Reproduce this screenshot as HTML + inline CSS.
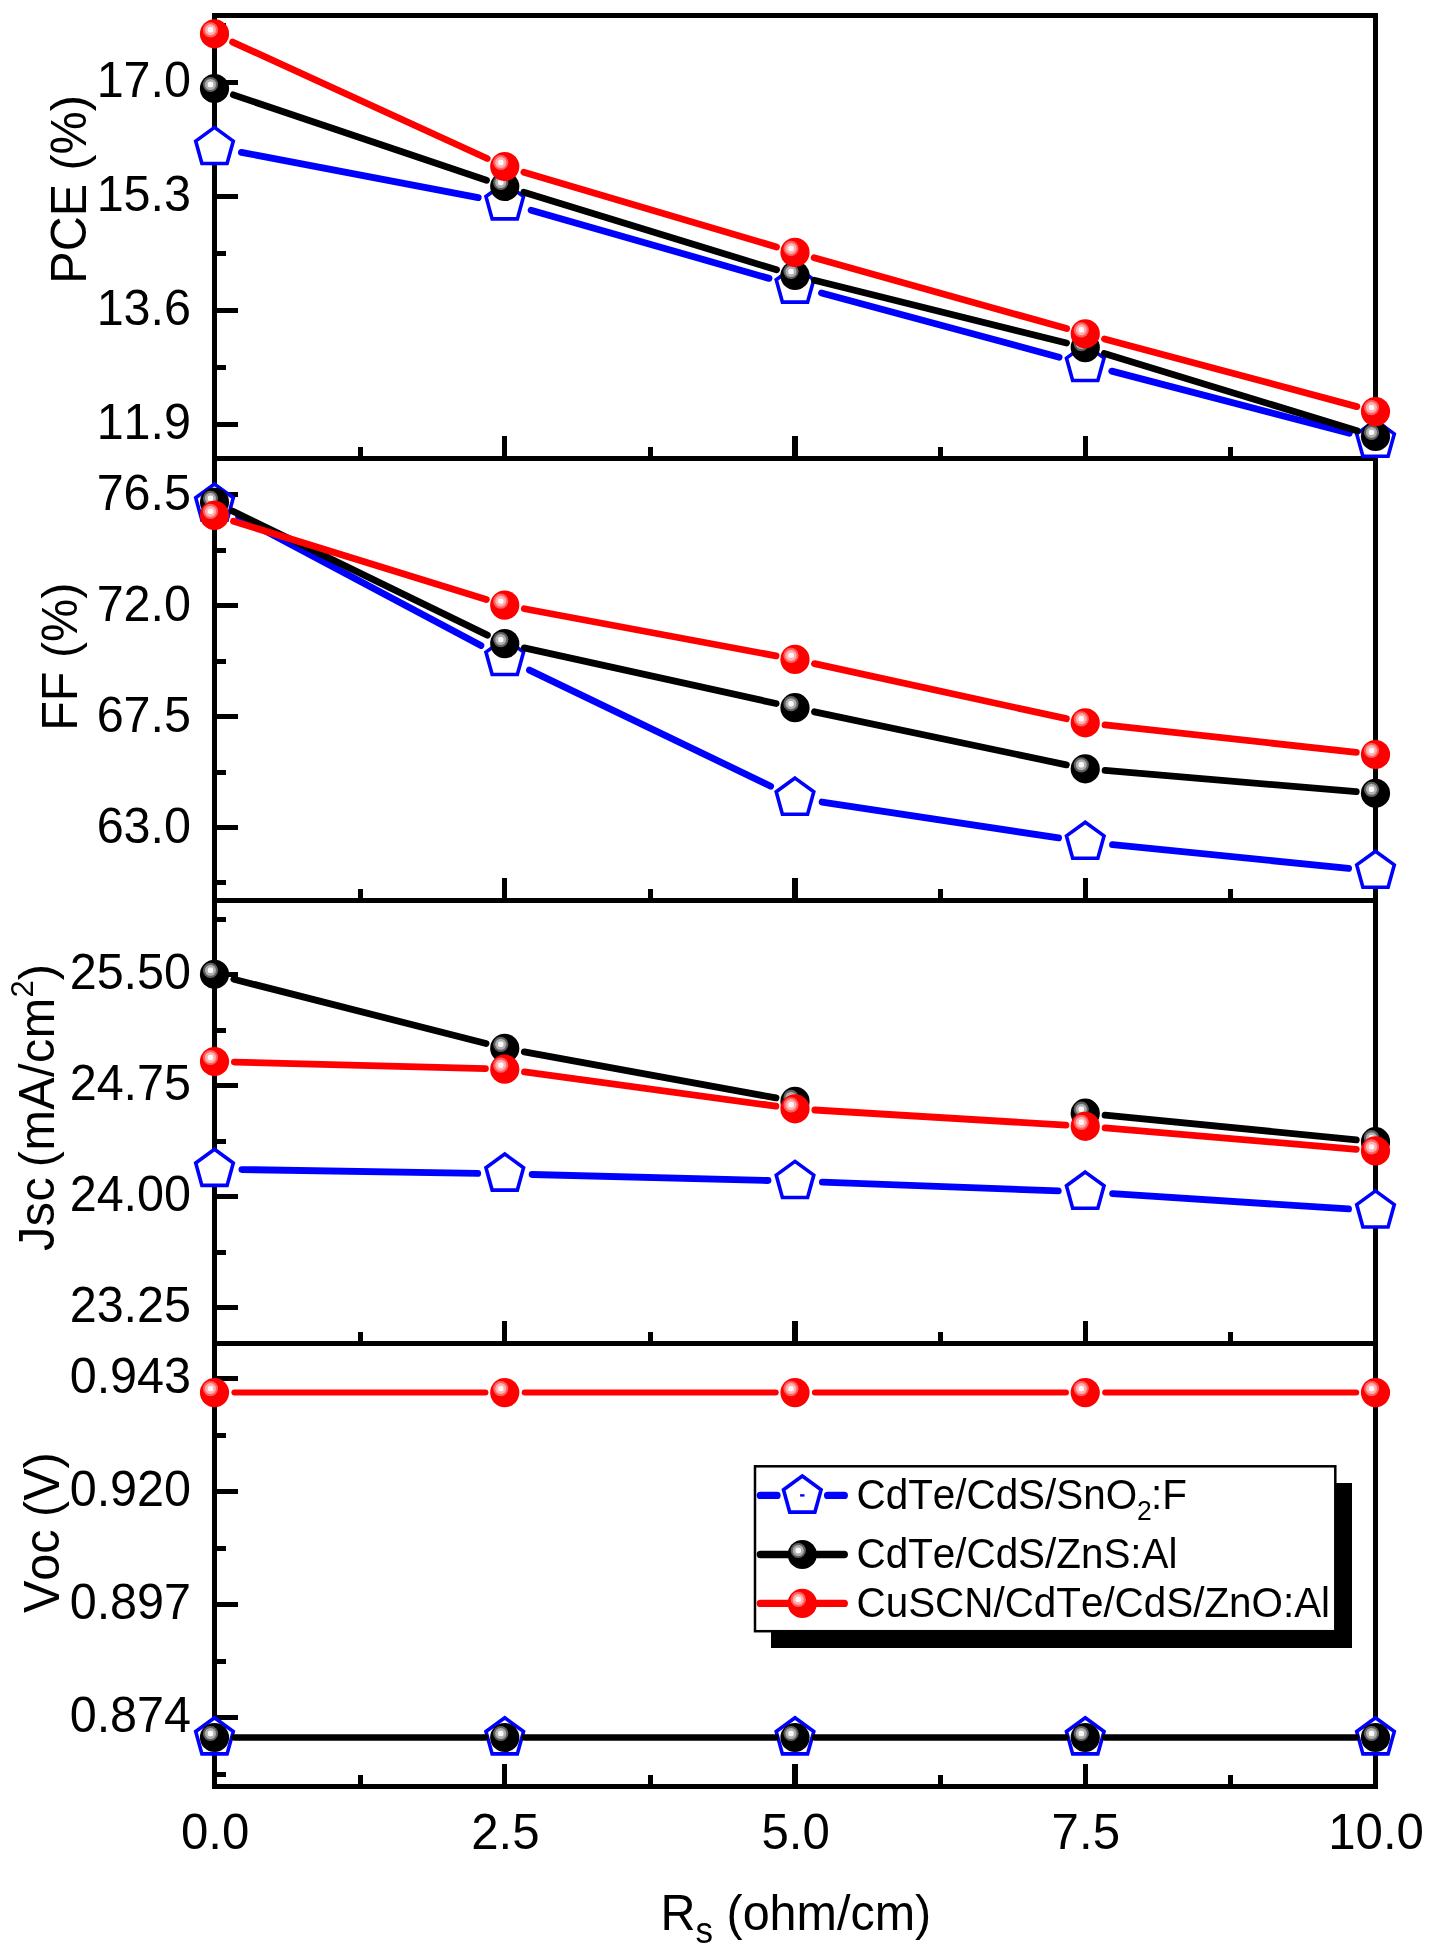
<!DOCTYPE html>
<html><head><meta charset="utf-8"><title>Rs dependence</title>
<style>html,body{margin:0;padding:0;background:#fff}svg{display:block;will-change:transform}text{font-kerning:none;font-variant-ligatures:none}</style>
</head><body>
<svg width="1433" height="1951" viewBox="0 0 1433 1951">
<rect width="100%" height="100%" fill="#fff"/>
<g stroke="#000" stroke-width="5" fill="none" shape-rendering="crispEdges">
<line x1="214.5" y1="13.0" x2="214.5" y2="1789.0"/>
<line x1="1375.5" y1="13.0" x2="1375.5" y2="1789.0"/>
<line x1="214.5" y1="15.5" x2="1375.5" y2="15.5"/>
<line x1="214.5" y1="458.5" x2="1375.5" y2="458.5"/>
<line x1="214.5" y1="900.5" x2="1375.5" y2="900.5"/>
<line x1="214.5" y1="1343.5" x2="1375.5" y2="1343.5"/>
<line x1="214.5" y1="1786.5" x2="1375.5" y2="1786.5"/>
<line x1="214.5" y1="82.5" x2="238.0" y2="82.5"/>
<line x1="214.5" y1="196.5" x2="238.0" y2="196.5"/>
<line x1="214.5" y1="310.5" x2="238.0" y2="310.5"/>
<line x1="214.5" y1="424.5" x2="238.0" y2="424.5"/>
<line x1="214.5" y1="25.5" x2="226.0" y2="25.5"/>
<line x1="214.5" y1="139.5" x2="226.0" y2="139.5"/>
<line x1="214.5" y1="253.5" x2="226.0" y2="253.5"/>
<line x1="214.5" y1="367.5" x2="226.0" y2="367.5"/>
<rect x="502" y="436.0" width="5" height="22.5" fill="#000" stroke="none"/>
<rect x="792" y="436.0" width="6" height="22.5" fill="#000" stroke="none"/>
<rect x="1083" y="436.0" width="5" height="22.5" fill="#000" stroke="none"/>
<rect x="358" y="447.0" width="5" height="11.5" fill="#000" stroke="none"/>
<rect x="648" y="447.0" width="5" height="11.5" fill="#000" stroke="none"/>
<rect x="938" y="447.0" width="5" height="11.5" fill="#000" stroke="none"/>
<rect x="1228" y="447.0" width="5" height="11.5" fill="#000" stroke="none"/>
<line x1="214.5" y1="494.5" x2="238.0" y2="494.5"/>
<line x1="214.5" y1="605.5" x2="238.0" y2="605.5"/>
<line x1="214.5" y1="716.5" x2="238.0" y2="716.5"/>
<line x1="214.5" y1="827.5" x2="238.0" y2="827.5"/>
<line x1="214.5" y1="550.5" x2="226.0" y2="550.5"/>
<line x1="214.5" y1="661.5" x2="226.0" y2="661.5"/>
<line x1="214.5" y1="772.5" x2="226.0" y2="772.5"/>
<line x1="214.5" y1="882.5" x2="226.0" y2="882.5"/>
<rect x="502" y="878.0" width="5" height="22.5" fill="#000" stroke="none"/>
<rect x="792" y="878.0" width="6" height="22.5" fill="#000" stroke="none"/>
<rect x="1083" y="878.0" width="5" height="22.5" fill="#000" stroke="none"/>
<rect x="358" y="889.0" width="5" height="11.5" fill="#000" stroke="none"/>
<rect x="648" y="889.0" width="5" height="11.5" fill="#000" stroke="none"/>
<rect x="938" y="889.0" width="5" height="11.5" fill="#000" stroke="none"/>
<rect x="1228" y="889.0" width="5" height="11.5" fill="#000" stroke="none"/>
<line x1="214.5" y1="974.5" x2="238.0" y2="974.5"/>
<line x1="214.5" y1="1085.5" x2="238.0" y2="1085.5"/>
<line x1="214.5" y1="1196.5" x2="238.0" y2="1196.5"/>
<line x1="214.5" y1="1307.5" x2="238.0" y2="1307.5"/>
<line x1="214.5" y1="919.5" x2="226.0" y2="919.5"/>
<line x1="214.5" y1="1030.5" x2="226.0" y2="1030.5"/>
<line x1="214.5" y1="1141.5" x2="226.0" y2="1141.5"/>
<line x1="214.5" y1="1252.5" x2="226.0" y2="1252.5"/>
<rect x="502" y="1321.0" width="5" height="22.5" fill="#000" stroke="none"/>
<rect x="792" y="1321.0" width="6" height="22.5" fill="#000" stroke="none"/>
<rect x="1083" y="1321.0" width="5" height="22.5" fill="#000" stroke="none"/>
<rect x="358" y="1332.0" width="5" height="11.5" fill="#000" stroke="none"/>
<rect x="648" y="1332.0" width="5" height="11.5" fill="#000" stroke="none"/>
<rect x="938" y="1332.0" width="5" height="11.5" fill="#000" stroke="none"/>
<rect x="1228" y="1332.0" width="5" height="11.5" fill="#000" stroke="none"/>
<line x1="214.5" y1="1378.5" x2="238.0" y2="1378.5"/>
<line x1="214.5" y1="1491.5" x2="238.0" y2="1491.5"/>
<line x1="214.5" y1="1604.5" x2="238.0" y2="1604.5"/>
<line x1="214.5" y1="1717.5" x2="238.0" y2="1717.5"/>
<line x1="214.5" y1="1435.5" x2="226.0" y2="1435.5"/>
<line x1="214.5" y1="1548.5" x2="226.0" y2="1548.5"/>
<line x1="214.5" y1="1661.5" x2="226.0" y2="1661.5"/>
<line x1="214.5" y1="1774.5" x2="226.0" y2="1774.5"/>
<rect x="502" y="1764.0" width="5" height="22.5" fill="#000" stroke="none"/>
<rect x="792" y="1764.0" width="6" height="22.5" fill="#000" stroke="none"/>
<rect x="1083" y="1764.0" width="5" height="22.5" fill="#000" stroke="none"/>
<rect x="358" y="1775.0" width="5" height="11.5" fill="#000" stroke="none"/>
<rect x="648" y="1775.0" width="5" height="11.5" fill="#000" stroke="none"/>
<rect x="938" y="1775.0" width="5" height="11.5" fill="#000" stroke="none"/>
<rect x="1228" y="1775.0" width="5" height="11.5" fill="#000" stroke="none"/>
</g>
<g stroke="#0000ff" stroke-width="6.8" stroke-linecap="round" fill="none">
<line x1="241.41" y1="152.34" x2="478.23" y2="197.54"/>
<line x1="531.09" y1="210.15" x2="769.05" y2="278.36"/>
<line x1="821.45" y1="292.95" x2="1059.18" y2="357.16"/>
<line x1="1111.76" y1="371.12" x2="1349.38" y2="433.18"/>
</g>
<polygon points="214.50,127.40 233.30,141.10 227.10,163.50 201.90,163.50 195.70,141.10" fill="#fff" stroke="#0000ff" stroke-width="3.6" stroke-linejoin="miter"/>
<polygon points="504.75,182.80 523.55,196.50 517.35,218.90 492.15,218.90 485.95,196.50" fill="#fff" stroke="#0000ff" stroke-width="3.6" stroke-linejoin="miter"/>
<polygon points="795.00,266.00 813.80,279.70 807.60,302.10 782.40,302.10 776.20,279.70" fill="#fff" stroke="#0000ff" stroke-width="3.6" stroke-linejoin="miter"/>
<polygon points="1085.25,344.40 1104.05,358.10 1097.85,380.50 1072.65,380.50 1066.45,358.10" fill="#fff" stroke="#0000ff" stroke-width="3.6" stroke-linejoin="miter"/>
<polygon points="1375.50,420.20 1394.30,433.90 1388.10,456.30 1362.90,456.30 1356.70,433.90" fill="#fff" stroke="#0000ff" stroke-width="3.6" stroke-linejoin="miter"/>
<g stroke="#000000" stroke-width="6.8" stroke-linecap="round" fill="none">
<line x1="233.35" y1="94.87" x2="486.46" y2="180.33"/>
<line x1="523.78" y1="192.33" x2="776.55" y2="269.84"/>
<line x1="814.31" y1="280.30" x2="1066.52" y2="342.95"/>
<line x1="1104.28" y1="353.42" x2="1357.04" y2="430.75"/>
</g>
<circle cx="214.50" cy="88.50" r="14.6" fill="#000000"/><circle cx="210.50" cy="84.50" r="7.6" fill="#606060"/><circle cx="210.50" cy="84.50" r="5.5" fill="#b0b0b0"/><rect x="207.80" y="81.80" width="5.4" height="5.4" rx="1.8" fill="#fafafa"/>
<circle cx="504.75" cy="186.50" r="14.6" fill="#000000"/><circle cx="500.75" cy="182.50" r="7.6" fill="#606060"/><circle cx="500.75" cy="182.50" r="5.5" fill="#b0b0b0"/><rect x="498.05" y="179.80" width="5.4" height="5.4" rx="1.8" fill="#fafafa"/>
<circle cx="795.00" cy="275.50" r="14.6" fill="#000000"/><circle cx="791.00" cy="271.50" r="7.6" fill="#606060"/><circle cx="791.00" cy="271.50" r="5.5" fill="#b0b0b0"/><rect x="788.30" y="268.80" width="5.4" height="5.4" rx="1.8" fill="#fafafa"/>
<circle cx="1085.25" cy="347.60" r="14.6" fill="#000000"/><circle cx="1081.25" cy="343.60" r="7.6" fill="#606060"/><circle cx="1081.25" cy="343.60" r="5.5" fill="#b0b0b0"/><rect x="1078.55" y="340.90" width="5.4" height="5.4" rx="1.8" fill="#fafafa"/>
<circle cx="1375.50" cy="436.40" r="14.6" fill="#000000"/><circle cx="1371.50" cy="432.40" r="7.6" fill="#606060"/><circle cx="1371.50" cy="432.40" r="5.5" fill="#b0b0b0"/><rect x="1368.80" y="429.70" width="5.4" height="5.4" rx="1.8" fill="#fafafa"/>
<g stroke="#ff0000" stroke-width="6.8" stroke-linecap="round" fill="none">
<line x1="232.60" y1="42.07" x2="487.20" y2="158.48"/>
<line x1="523.83" y1="172.15" x2="776.49" y2="246.92"/>
<line x1="814.16" y1="257.77" x2="1066.67" y2="328.59"/>
<line x1="1104.47" y1="338.95" x2="1356.86" y2="406.60"/>
</g>
<circle cx="214.50" cy="33.80" r="14.6" fill="#ff0000"/><circle cx="210.50" cy="29.80" r="7.6" fill="#ff6060"/><circle cx="210.50" cy="29.80" r="5.5" fill="#ffb0b0"/><rect x="207.80" y="27.10" width="5.4" height="5.4" rx="1.8" fill="#fff8f8"/>
<circle cx="504.75" cy="166.50" r="14.6" fill="#ff0000"/><circle cx="500.75" cy="162.50" r="7.6" fill="#ff6060"/><circle cx="500.75" cy="162.50" r="5.5" fill="#ffb0b0"/><rect x="498.05" y="159.80" width="5.4" height="5.4" rx="1.8" fill="#fff8f8"/>
<circle cx="795.00" cy="252.40" r="14.6" fill="#ff0000"/><circle cx="791.00" cy="248.40" r="7.6" fill="#ff6060"/><circle cx="791.00" cy="248.40" r="5.5" fill="#ffb0b0"/><rect x="788.30" y="245.70" width="5.4" height="5.4" rx="1.8" fill="#fff8f8"/>
<circle cx="1085.25" cy="333.80" r="14.6" fill="#ff0000"/><circle cx="1081.25" cy="329.80" r="7.6" fill="#ff6060"/><circle cx="1081.25" cy="329.80" r="5.5" fill="#ffb0b0"/><rect x="1078.55" y="327.10" width="5.4" height="5.4" rx="1.8" fill="#fff8f8"/>
<circle cx="1375.50" cy="411.60" r="14.6" fill="#ff0000"/><circle cx="1371.50" cy="407.60" r="7.6" fill="#ff6060"/><circle cx="1371.50" cy="407.60" r="5.5" fill="#ffb0b0"/><rect x="1368.80" y="404.90" width="5.4" height="5.4" rx="1.8" fill="#fff8f8"/>
<g stroke="#0000ff" stroke-width="6.8" stroke-linecap="round" fill="none">
<line x1="238.69" y1="516.76" x2="480.91" y2="645.53"/>
<line x1="529.44" y1="670.08" x2="770.67" y2="786.19"/>
<line x1="822.09" y1="802.02" x2="1058.56" y2="837.94"/>
<line x1="1112.51" y1="844.72" x2="1348.63" y2="868.32"/>
</g>
<polygon points="214.50,484.10 233.30,497.80 227.10,520.20 201.90,520.20 195.70,497.80" fill="#fff" stroke="#0000ff" stroke-width="3.6" stroke-linejoin="miter"/>
<polygon points="504.75,638.40 523.55,652.10 517.35,674.50 492.15,674.50 485.95,652.10" fill="#fff" stroke="#0000ff" stroke-width="3.6" stroke-linejoin="miter"/>
<polygon points="795.00,778.10 813.80,791.80 807.60,814.20 782.40,814.20 776.20,791.80" fill="#fff" stroke="#0000ff" stroke-width="3.6" stroke-linejoin="miter"/>
<polygon points="1085.25,822.20 1104.05,835.90 1097.85,858.30 1072.65,858.30 1066.45,835.90" fill="#fff" stroke="#0000ff" stroke-width="3.6" stroke-linejoin="miter"/>
<polygon points="1375.50,851.20 1394.30,864.90 1388.10,887.30 1362.90,887.30 1356.70,864.90" fill="#fff" stroke="#0000ff" stroke-width="3.6" stroke-linejoin="miter"/>
<g stroke="#000000" stroke-width="6.8" stroke-linecap="round" fill="none">
<line x1="232.39" y1="511.01" x2="487.40" y2="635.15"/>
<line x1="524.18" y1="647.89" x2="776.15" y2="703.54"/>
<line x1="814.47" y1="711.80" x2="1066.36" y2="764.82"/>
<line x1="1105.08" y1="770.47" x2="1356.27" y2="791.68"/>
</g>
<circle cx="214.50" cy="502.30" r="14.6" fill="#000000"/><circle cx="210.50" cy="498.30" r="7.6" fill="#606060"/><circle cx="210.50" cy="498.30" r="5.5" fill="#b0b0b0"/><rect x="207.80" y="495.60" width="5.4" height="5.4" rx="1.8" fill="#fafafa"/>
<circle cx="504.75" cy="643.60" r="14.6" fill="#000000"/><circle cx="500.75" cy="639.60" r="7.6" fill="#606060"/><circle cx="500.75" cy="639.60" r="5.5" fill="#b0b0b0"/><rect x="498.05" y="636.90" width="5.4" height="5.4" rx="1.8" fill="#fafafa"/>
<circle cx="795.00" cy="707.70" r="14.6" fill="#000000"/><circle cx="791.00" cy="703.70" r="7.6" fill="#606060"/><circle cx="791.00" cy="703.70" r="5.5" fill="#b0b0b0"/><rect x="788.30" y="701.00" width="5.4" height="5.4" rx="1.8" fill="#fafafa"/>
<circle cx="1085.25" cy="768.80" r="14.6" fill="#000000"/><circle cx="1081.25" cy="764.80" r="7.6" fill="#606060"/><circle cx="1081.25" cy="764.80" r="5.5" fill="#b0b0b0"/><rect x="1078.55" y="762.10" width="5.4" height="5.4" rx="1.8" fill="#fafafa"/>
<circle cx="1375.50" cy="793.30" r="14.6" fill="#000000"/><circle cx="1371.50" cy="789.30" r="7.6" fill="#606060"/><circle cx="1371.50" cy="789.30" r="5.5" fill="#b0b0b0"/><rect x="1368.80" y="786.60" width="5.4" height="5.4" rx="1.8" fill="#fafafa"/>
<g stroke="#ff0000" stroke-width="6.8" stroke-linecap="round" fill="none">
<line x1="233.51" y1="521.28" x2="486.31" y2="599.40"/>
<line x1="524.31" y1="608.76" x2="776.03" y2="655.85"/>
<line x1="814.44" y1="663.65" x2="1066.39" y2="718.68"/>
<line x1="1105.03" y1="724.96" x2="1356.31" y2="752.40"/>
</g>
<circle cx="214.50" cy="515.40" r="14.6" fill="#ff0000"/><circle cx="210.50" cy="511.40" r="7.6" fill="#ff6060"/><circle cx="210.50" cy="511.40" r="5.5" fill="#ffb0b0"/><rect x="207.80" y="508.70" width="5.4" height="5.4" rx="1.8" fill="#fff8f8"/>
<circle cx="504.75" cy="605.10" r="14.6" fill="#ff0000"/><circle cx="500.75" cy="601.10" r="7.6" fill="#ff6060"/><circle cx="500.75" cy="601.10" r="5.5" fill="#ffb0b0"/><rect x="498.05" y="598.40" width="5.4" height="5.4" rx="1.8" fill="#fff8f8"/>
<circle cx="795.00" cy="659.40" r="14.6" fill="#ff0000"/><circle cx="791.00" cy="655.40" r="7.6" fill="#ff6060"/><circle cx="791.00" cy="655.40" r="5.5" fill="#ffb0b0"/><rect x="788.30" y="652.70" width="5.4" height="5.4" rx="1.8" fill="#fff8f8"/>
<circle cx="1085.25" cy="722.80" r="14.6" fill="#ff0000"/><circle cx="1081.25" cy="718.80" r="7.6" fill="#ff6060"/><circle cx="1081.25" cy="718.80" r="5.5" fill="#ffb0b0"/><rect x="1078.55" y="716.10" width="5.4" height="5.4" rx="1.8" fill="#fff8f8"/>
<circle cx="1375.50" cy="754.50" r="14.6" fill="#ff0000"/><circle cx="1371.50" cy="750.50" r="7.6" fill="#ff6060"/><circle cx="1371.50" cy="750.50" r="5.5" fill="#ffb0b0"/><rect x="1368.80" y="747.80" width="5.4" height="5.4" rx="1.8" fill="#fff8f8"/>
<g stroke="#0000ff" stroke-width="6.8" stroke-linecap="round" fill="none">
<line x1="241.90" y1="1169.54" x2="477.75" y2="1173.36"/>
<line x1="532.14" y1="1174.50" x2="768.01" y2="1180.51"/>
<line x1="822.38" y1="1182.21" x2="1058.27" y2="1190.91"/>
<line x1="1112.59" y1="1193.67" x2="1348.56" y2="1208.95"/>
</g>
<polygon points="214.50,1149.30 233.30,1163.00 227.10,1185.40 201.90,1185.40 195.70,1163.00" fill="#fff" stroke="#0000ff" stroke-width="3.6" stroke-linejoin="miter"/>
<polygon points="504.75,1154.00 523.55,1167.70 517.35,1190.10 492.15,1190.10 485.95,1167.70" fill="#fff" stroke="#0000ff" stroke-width="3.6" stroke-linejoin="miter"/>
<polygon points="795.00,1161.40 813.80,1175.10 807.60,1197.50 782.40,1197.50 776.20,1175.10" fill="#fff" stroke="#0000ff" stroke-width="3.6" stroke-linejoin="miter"/>
<polygon points="1085.25,1172.10 1104.05,1185.80 1097.85,1208.20 1072.65,1208.20 1066.45,1185.80" fill="#fff" stroke="#0000ff" stroke-width="3.6" stroke-linejoin="miter"/>
<polygon points="1375.50,1190.90 1394.30,1204.60 1388.10,1227.00 1362.90,1227.00 1356.70,1204.60" fill="#fff" stroke="#0000ff" stroke-width="3.6" stroke-linejoin="miter"/>
<g stroke="#000000" stroke-width="6.8" stroke-linecap="round" fill="none">
<line x1="233.78" y1="979.22" x2="486.05" y2="1043.53"/>
<line x1="524.33" y1="1051.88" x2="776.02" y2="1097.93"/>
<line x1="1105.05" y1="1115.14" x2="1356.29" y2="1139.81"/>
</g>
<circle cx="214.50" cy="974.30" r="14.6" fill="#000000"/><circle cx="210.50" cy="970.30" r="7.6" fill="#606060"/><circle cx="210.50" cy="970.30" r="5.5" fill="#b0b0b0"/><rect x="207.80" y="967.60" width="5.4" height="5.4" rx="1.8" fill="#fafafa"/>
<circle cx="504.75" cy="1048.30" r="14.6" fill="#000000"/><circle cx="500.75" cy="1044.30" r="7.6" fill="#606060"/><circle cx="500.75" cy="1044.30" r="5.5" fill="#b0b0b0"/><rect x="498.05" y="1041.60" width="5.4" height="5.4" rx="1.8" fill="#fafafa"/>
<circle cx="795.00" cy="1101.40" r="14.6" fill="#000000"/><circle cx="791.00" cy="1097.40" r="7.6" fill="#606060"/><circle cx="791.00" cy="1097.40" r="5.5" fill="#b0b0b0"/><rect x="788.30" y="1094.70" width="5.4" height="5.4" rx="1.8" fill="#fafafa"/>
<circle cx="1085.25" cy="1113.20" r="14.6" fill="#000000"/><circle cx="1081.25" cy="1109.20" r="7.6" fill="#606060"/><circle cx="1081.25" cy="1109.20" r="5.5" fill="#b0b0b0"/><rect x="1078.55" y="1106.50" width="5.4" height="5.4" rx="1.8" fill="#fafafa"/>
<circle cx="1375.50" cy="1141.70" r="14.6" fill="#000000"/><circle cx="1371.50" cy="1137.70" r="7.6" fill="#606060"/><circle cx="1371.50" cy="1137.70" r="5.5" fill="#b0b0b0"/><rect x="1368.80" y="1135.00" width="5.4" height="5.4" rx="1.8" fill="#fafafa"/>
<g stroke="#ff0000" stroke-width="6.8" stroke-linecap="round" fill="none">
<line x1="234.39" y1="1062.03" x2="485.46" y2="1068.69"/>
<line x1="524.47" y1="1071.89" x2="775.88" y2="1106.19"/>
<line x1="814.86" y1="1110.00" x2="1065.98" y2="1125.14"/>
<line x1="1105.08" y1="1127.98" x2="1356.27" y2="1149.27"/>
</g>
<circle cx="214.50" cy="1061.50" r="14.6" fill="#ff0000"/><circle cx="210.50" cy="1057.50" r="7.6" fill="#ff6060"/><circle cx="210.50" cy="1057.50" r="5.5" fill="#ffb0b0"/><rect x="207.80" y="1054.80" width="5.4" height="5.4" rx="1.8" fill="#fff8f8"/>
<circle cx="504.75" cy="1069.20" r="14.6" fill="#ff0000"/><circle cx="500.75" cy="1065.20" r="7.6" fill="#ff6060"/><circle cx="500.75" cy="1065.20" r="5.5" fill="#ffb0b0"/><rect x="498.05" y="1062.50" width="5.4" height="5.4" rx="1.8" fill="#fff8f8"/>
<circle cx="795.00" cy="1108.80" r="14.6" fill="#ff0000"/><circle cx="791.00" cy="1104.80" r="7.6" fill="#ff6060"/><circle cx="791.00" cy="1104.80" r="5.5" fill="#ffb0b0"/><rect x="788.30" y="1102.10" width="5.4" height="5.4" rx="1.8" fill="#fff8f8"/>
<circle cx="1085.25" cy="1126.30" r="14.6" fill="#ff0000"/><circle cx="1081.25" cy="1122.30" r="7.6" fill="#ff6060"/><circle cx="1081.25" cy="1122.30" r="5.5" fill="#ffb0b0"/><rect x="1078.55" y="1119.60" width="5.4" height="5.4" rx="1.8" fill="#fff8f8"/>
<circle cx="1375.50" cy="1150.90" r="14.6" fill="#ff0000"/><circle cx="1371.50" cy="1146.90" r="7.6" fill="#ff6060"/><circle cx="1371.50" cy="1146.90" r="5.5" fill="#ffb0b0"/><rect x="1368.80" y="1144.20" width="5.4" height="5.4" rx="1.8" fill="#fff8f8"/>
<g stroke="#0000ff" stroke-width="5.0" stroke-linecap="round" fill="none">
<line x1="241.90" y1="1737.60" x2="477.75" y2="1737.60"/>
<line x1="532.15" y1="1737.60" x2="768.00" y2="1737.60"/>
<line x1="822.40" y1="1737.60" x2="1058.25" y2="1737.60"/>
<line x1="1112.65" y1="1737.60" x2="1348.50" y2="1737.60"/>
</g>
<polygon points="214.50,1717.80 233.30,1731.50 227.10,1753.90 201.90,1753.90 195.70,1731.50" fill="#fff" stroke="#0000ff" stroke-width="3.6" stroke-linejoin="miter"/>
<polygon points="504.75,1717.80 523.55,1731.50 517.35,1753.90 492.15,1753.90 485.95,1731.50" fill="#fff" stroke="#0000ff" stroke-width="3.6" stroke-linejoin="miter"/>
<polygon points="795.00,1717.80 813.80,1731.50 807.60,1753.90 782.40,1753.90 776.20,1731.50" fill="#fff" stroke="#0000ff" stroke-width="3.6" stroke-linejoin="miter"/>
<polygon points="1085.25,1717.80 1104.05,1731.50 1097.85,1753.90 1072.65,1753.90 1066.45,1731.50" fill="#fff" stroke="#0000ff" stroke-width="3.6" stroke-linejoin="miter"/>
<polygon points="1375.50,1717.80 1394.30,1731.50 1388.10,1753.90 1362.90,1753.90 1356.70,1731.50" fill="#fff" stroke="#0000ff" stroke-width="3.6" stroke-linejoin="miter"/>
<g stroke="#000000" stroke-width="6.4" stroke-linecap="round" fill="none">
<line x1="234.40" y1="1737.50" x2="485.45" y2="1737.50"/>
<line x1="524.65" y1="1737.50" x2="775.70" y2="1737.50"/>
<line x1="814.90" y1="1737.50" x2="1065.95" y2="1737.50"/>
<line x1="1105.15" y1="1737.50" x2="1356.20" y2="1737.50"/>
</g>
<circle cx="214.50" cy="1737.50" r="14.6" fill="#000000"/><circle cx="210.50" cy="1733.50" r="7.6" fill="#606060"/><circle cx="210.50" cy="1733.50" r="5.5" fill="#b0b0b0"/><rect x="207.80" y="1730.80" width="5.4" height="5.4" rx="1.8" fill="#fafafa"/>
<circle cx="504.75" cy="1737.50" r="14.6" fill="#000000"/><circle cx="500.75" cy="1733.50" r="7.6" fill="#606060"/><circle cx="500.75" cy="1733.50" r="5.5" fill="#b0b0b0"/><rect x="498.05" y="1730.80" width="5.4" height="5.4" rx="1.8" fill="#fafafa"/>
<circle cx="795.00" cy="1737.50" r="14.6" fill="#000000"/><circle cx="791.00" cy="1733.50" r="7.6" fill="#606060"/><circle cx="791.00" cy="1733.50" r="5.5" fill="#b0b0b0"/><rect x="788.30" y="1730.80" width="5.4" height="5.4" rx="1.8" fill="#fafafa"/>
<circle cx="1085.25" cy="1737.50" r="14.6" fill="#000000"/><circle cx="1081.25" cy="1733.50" r="7.6" fill="#606060"/><circle cx="1081.25" cy="1733.50" r="5.5" fill="#b0b0b0"/><rect x="1078.55" y="1730.80" width="5.4" height="5.4" rx="1.8" fill="#fafafa"/>
<circle cx="1375.50" cy="1737.50" r="14.6" fill="#000000"/><circle cx="1371.50" cy="1733.50" r="7.6" fill="#606060"/><circle cx="1371.50" cy="1733.50" r="5.5" fill="#b0b0b0"/><rect x="1368.80" y="1730.80" width="5.4" height="5.4" rx="1.8" fill="#fafafa"/>
<g stroke="#ff0000" stroke-width="6.0" stroke-linecap="round" fill="none">
<line x1="234.40" y1="1392.60" x2="485.45" y2="1392.60"/>
<line x1="524.65" y1="1392.60" x2="775.70" y2="1392.60"/>
<line x1="814.90" y1="1392.60" x2="1065.95" y2="1392.60"/>
<line x1="1105.15" y1="1392.60" x2="1356.20" y2="1392.60"/>
</g>
<circle cx="214.50" cy="1392.60" r="14.6" fill="#ff0000"/><circle cx="210.50" cy="1388.60" r="7.6" fill="#ff6060"/><circle cx="210.50" cy="1388.60" r="5.5" fill="#ffb0b0"/><rect x="207.80" y="1385.90" width="5.4" height="5.4" rx="1.8" fill="#fff8f8"/>
<circle cx="504.75" cy="1392.60" r="14.6" fill="#ff0000"/><circle cx="500.75" cy="1388.60" r="7.6" fill="#ff6060"/><circle cx="500.75" cy="1388.60" r="5.5" fill="#ffb0b0"/><rect x="498.05" y="1385.90" width="5.4" height="5.4" rx="1.8" fill="#fff8f8"/>
<circle cx="795.00" cy="1392.60" r="14.6" fill="#ff0000"/><circle cx="791.00" cy="1388.60" r="7.6" fill="#ff6060"/><circle cx="791.00" cy="1388.60" r="5.5" fill="#ffb0b0"/><rect x="788.30" y="1385.90" width="5.4" height="5.4" rx="1.8" fill="#fff8f8"/>
<circle cx="1085.25" cy="1392.60" r="14.6" fill="#ff0000"/><circle cx="1081.25" cy="1388.60" r="7.6" fill="#ff6060"/><circle cx="1081.25" cy="1388.60" r="5.5" fill="#ffb0b0"/><rect x="1078.55" y="1385.90" width="5.4" height="5.4" rx="1.8" fill="#fff8f8"/>
<circle cx="1375.50" cy="1392.60" r="14.6" fill="#ff0000"/><circle cx="1371.50" cy="1388.60" r="7.6" fill="#ff6060"/><circle cx="1371.50" cy="1388.60" r="5.5" fill="#ffb0b0"/><rect x="1368.80" y="1385.90" width="5.4" height="5.4" rx="1.8" fill="#fff8f8"/>
<g font-family="'Liberation Sans', Arial, sans-serif" font-size="48.5" fill="#000">
<text transform="translate(191,97.3) scale(1,1.03)" text-anchor="end">17.0</text>
<text transform="translate(191,211.3) scale(1,1.03)" text-anchor="end">15.3</text>
<text transform="translate(191,325.3) scale(1,1.03)" text-anchor="end">13.6</text>
<text transform="translate(191,439.3) scale(1,1.03)" text-anchor="end">11.9</text>
<text transform="translate(191,510.2) scale(1,1.03)" text-anchor="end">76.5</text>
<text transform="translate(191,621.2) scale(1,1.03)" text-anchor="end">72.0</text>
<text transform="translate(191,732.2) scale(1,1.03)" text-anchor="end">67.5</text>
<text transform="translate(191,843.2) scale(1,1.03)" text-anchor="end">63.0</text>
<text transform="translate(191,989.3) scale(1,1.03)" text-anchor="end">25.50</text>
<text transform="translate(191,1100.3) scale(1,1.03)" text-anchor="end">24.75</text>
<text transform="translate(191,1211.3) scale(1,1.03)" text-anchor="end">24.00</text>
<text transform="translate(191,1322.3) scale(1,1.03)" text-anchor="end">23.25</text>
<text transform="translate(191,1393.3) scale(1,1.03)" text-anchor="end">0.943</text>
<text transform="translate(191,1506.3) scale(1,1.03)" text-anchor="end">0.920</text>
<text transform="translate(191,1619.3) scale(1,1.03)" text-anchor="end">0.897</text>
<text transform="translate(191,1732.3) scale(1,1.03)" text-anchor="end">0.874</text>
<text transform="translate(215.1,1848.8) scale(1,1.03)" text-anchor="middle" font-size="49.2">0.0</text>
<text transform="translate(505.4,1848.8) scale(1,1.03)" text-anchor="middle" font-size="49.2">2.5</text>
<text transform="translate(795.6,1848.8) scale(1,1.03)" text-anchor="middle" font-size="49.2">5.0</text>
<text transform="translate(1085.8,1848.8) scale(1,1.03)" text-anchor="middle" font-size="49.2">7.5</text>
<text transform="translate(1376.1,1848.8) scale(1,1.03)" text-anchor="middle" font-size="49.2">10.0</text>
<text transform="translate(660.5,1930.2) scale(1,1.03)">R<tspan font-size="35" dy="12">s</tspan><tspan dy="-12"> (ohm/cm)</tspan></text>
<text transform="translate(86,283.7) rotate(-90) scale(1,1.03)">PCE (%)</text>
<text transform="translate(77,730.8) rotate(-90) scale(1,1.03)">FF (%)</text>
<text transform="translate(54,1251.0) rotate(-90) scale(1,1.03)"><tspan word-spacing="-4.2" letter-spacing="0.45">Jsc (mA/cm</tspan><tspan font-size="31" dy="-20">2</tspan><tspan dy="20">)</tspan></text>
<text transform="translate(59,1613) rotate(-90) scale(1,1.03)"><tspan word-spacing="-1">Voc (V)</tspan></text>
</g>
<rect x="771" y="1483" width="581" height="165" fill="#000"/>
<rect x="755" y="1466.3" width="580.3" height="164.9" fill="#fff" stroke="#000" stroke-width="2.5"/>
<g stroke-width="7.3" stroke-linecap="round" fill="none">
<line x1="760.3" y1="1495.4" x2="777" y2="1495.4" stroke="#00f"/><line x1="827.6" y1="1495.4" x2="844.3" y2="1495.4" stroke="#00f"/>
<line x1="760.3" y1="1554.5" x2="844.3" y2="1554.5" stroke="#000"/>
<line x1="760.3" y1="1603.4" x2="844.3" y2="1603.4" stroke="#f00"/>
</g>
<polygon points="802.30,1476.00 821.10,1489.70 814.90,1512.10 789.70,1512.10 783.50,1489.70" fill="#fff" stroke="#0000ff" stroke-width="3.6"/>
<rect x="800.0999999999999" y="1494.2" width="4.4" height="2.4" fill="#00f"/>
<circle cx="802.30" cy="1554.50" r="14.6" fill="#000000"/><circle cx="798.30" cy="1550.50" r="7.6" fill="#606060"/><circle cx="798.30" cy="1550.50" r="5.5" fill="#b0b0b0"/><rect x="795.60" y="1547.80" width="5.4" height="5.4" rx="1.8" fill="#fafafa"/>
<circle cx="802.30" cy="1603.40" r="14.6" fill="#ff0000"/><circle cx="798.30" cy="1599.40" r="7.6" fill="#ff6060"/><circle cx="798.30" cy="1599.40" r="5.5" fill="#ffb0b0"/><rect x="795.60" y="1596.70" width="5.4" height="5.4" rx="1.8" fill="#fff8f8"/>
<g font-family="'Liberation Sans', Arial, sans-serif" font-size="40.4" fill="#000">
<text transform="translate(856.5,1509) scale(1,1.03)">CdTe/CdS/SnO<tspan font-size="26.5" dy="10.7">2</tspan><tspan dy="-10.7" dx="-0.8">:F</tspan></text>
<text transform="translate(856.5,1568.2) scale(1,1.03)">CdTe/CdS/ZnS:Al</text>
<text transform="translate(856.5,1617.1) scale(1,1.03)">CuSCN/CdTe/CdS/ZnO:Al</text>
</g>
</svg>
</body></html>
